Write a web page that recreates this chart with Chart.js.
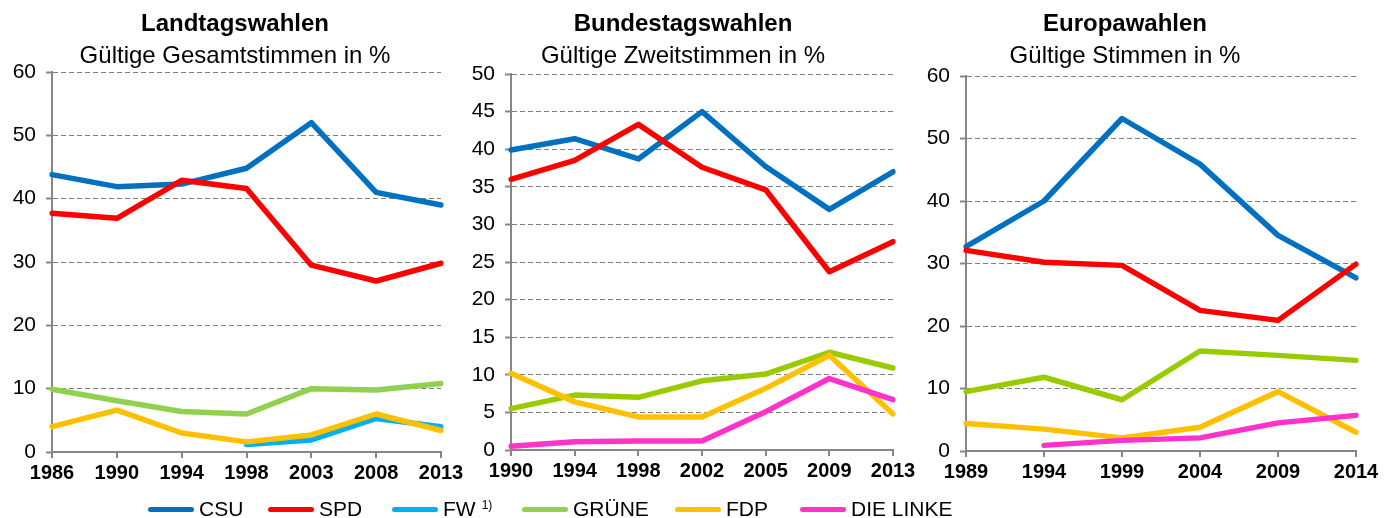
<!DOCTYPE html>
<html>
<head>
<meta charset="utf-8">
<script src="https://cdn.jsdelivr.net/npm/chart.js@4"></script>
<style>
  body { margin: 0; background: #fff; }
  #wrap { position: relative; width: 1397px; height: 518px; overflow: hidden; font-family: 'Liberation Sans', Arial, sans-serif; }
  canvas { position: absolute; left: 0; top: 0; }
  .title { position: absolute; width: 460px; text-align: center; font-size: 24px; line-height: 24px; font-weight: bold; color: #000; }
  .sub { position: absolute; width: 460px; text-align: center; font-size: 24px; line-height: 24px; color: #000; }
  .leg { position: absolute; top: 497px; height: 24px; display: flex; align-items: center; font-size: 21px; color: #000; white-space: nowrap; }
  .leg i { display: inline-block; width: 46px; height: 5px; border-radius: 3px; margin-right: 5px; }
  .leg sup { font-size: 12px; margin-left: 6px; position: relative; top: -4px; }
</style>
</head>
<body>
<div id="wrap">
  <canvas id="ltw" width="1397" height="518"></canvas>
  <canvas id="btw" width="1397" height="518"></canvas>
  <canvas id="euw" width="1397" height="518"></canvas>
</div>
<script>
// Landtagswahlen
const ltwYears = ['1986', '1990', '1994', '1998', '2003', '2008', '2013'];
const ltwCSU = [43.8, 41.9, 42.3, 44.8, 52.0, 41.0, 39.0];
const ltwSPD = [37.7, 36.9, 42.9, 41.6, 29.5, 27.0, 29.8];
const ltwFW = [null, null, null, 1.2, 1.9, 5.3, 4.0];
const ltwGruene = [9.9, 8.1, 6.4, 6.0, 10.0, 9.8, 10.8];
const ltwFDP = [4.0, 6.6, 3.0, 1.6, 2.7, 6.0, 3.4];

// Bundestagswahlen
const btwYears = ['1990', '1994', '1998', '2002', '2005', '2009', '2013'];
const btwCSU = [39.9, 41.4, 38.7, 45.0, 37.7, 32.0, 37.0];
const btwSPD = [36.0, 38.5, 43.3, 37.6, 34.6, 23.7, 27.7];
const btwGruene = [5.5, 7.3, 7.0, 9.2, 10.1, 13.0, 10.9];
const btwFDP = [10.2, 6.4, 4.4, 4.4, 8.2, 12.6, 4.8];
const btwLinke = [0.5, 1.1, 1.2, 1.2, 5.1, 9.5, 6.7];

// Europawahlen
const euwYears = ['1989', '1994', '1999', '2004', '2009', '2014'];
const euwCSU = [32.7, 40.0, 53.2, 45.9, 34.5, 27.7];
const euwSPD = [32.1, 30.2, 29.7, 22.5, 20.9, 29.9];
const euwGruene = [9.5, 11.8, 8.2, 16.0, 15.3, 14.5];
const euwFDP = [4.4, 3.5, 2.1, 3.8, 9.5, 3.0];
const euwLinke = [null, 0.9, 1.7, 2.1, 4.5, 5.7];

const yMax = { ltw: 60, btw: 50, euw: 60 };
const yStep = { ltw: 10, btw: 5, euw: 10 };

const titles = {
    ltw: ['Landtagswahlen', 'Gültige Gesamtstimmen in %'],
    btw: ['Bundestagswahlen', 'Gültige Zweitstimmen in %'],
    euw: ['Europawahlen', 'Gültige Stimmen in %']
};

const legendNames = ['CSU', 'SPD', 'FW', 'GRÜNE', 'FDP', 'DIE LINKE'];

const colors = {
    CSU: '#0070C0',
    SPD: '#FF0000',
    FW: '#00B0F0',
    GRUENE: '#92D050',
    GRUENE2: '#99CC00',
    FDP: '#FFC000',
    LINKE: '#FF33CC'
};

// plot boxes in page pixels
const boxes = {
    ltw: { left: 52, right: 441, top: 72, bottom: 452, title: 235 },
    btw: { left: 511, right: 893, top: 74, bottom: 450, title: 683 },
    euw: { left: 966, right: 1356, top: 76, bottom: 451, title: 1125 }
};
const legendX = [148, 268, 392, 522, 675, 800];
const legendColors = [colors.CSU, colors.SPD, colors.FW, colors.GRUENE, colors.FDP, colors.LINKE];

const W = 1397, H = 518, yW = 52, xH = 40;
const font = "'Liberation Sans', Arial, sans-serif";

function line(label, data, color, i) {
    return {
        label: label,
        data: data,
        borderColor: color,
        backgroundColor: color,
        borderWidth: 5.5,
        pointRadius: 0,
        borderCapStyle: 'round',
        borderJoinStyle: 'round',
        tension: 0,
        spanGaps: false,
        order: 10 - i
    };
}

function makeChart(id, labels, datasets) {
    const b = boxes[id];
    return new Chart(document.getElementById(id), {
        type: 'line',
        data: { labels: labels, datasets: datasets },
        options: {
            responsive: false,
            animation: false,
            layout: {
                padding: { left: b.left - yW, right: W - b.right, top: b.top, bottom: H - b.bottom - xH }
            },
            plugins: {
                legend: { display: false },
                tooltip: { enabled: false }
            },
            scales: {
                x: {
                    offset: false,
                    grid: { drawOnChartArea: false, offset: false, color: '#868686', lineWidth: 2, tickLength: 6 },
                    border: { color: '#868686', width: 2 },
                    ticks: { color: '#000', padding: 3, maxRotation: 0, autoSkip: false, font: { family: font, size: 20, weight: 'bold' } },
                    afterFit: function (s) { s.height = xH; s.paddingLeft = 0; s.paddingRight = 0; }
                },
                y: {
                    min: 0,
                    max: yMax[id],
                    grid: { color: '#808080', lineWidth: 1, tickLength: 6, tickWidth: 2, tickColor: '#868686', tickBorderDash: [] },
                    border: { color: '#868686', width: 2, dash: [5, 3] },
                    ticks: { stepSize: yStep[id], color: '#000', padding: 10, font: { family: font, size: 21 } },
                    afterFit: function (s) { s.width = yW; s.paddingTop = 0; s.paddingBottom = 0; }
                }
            }
        }
    });
}

makeChart('ltw', ltwYears, [
    line('CSU', ltwCSU, colors.CSU, 0),
    line('SPD', ltwSPD, colors.SPD, 1),
    line('FW', ltwFW, colors.FW, 2),
    line('GRÜNE', ltwGruene, colors.GRUENE, 3),
    line('FDP', ltwFDP, colors.FDP, 4)
]);

makeChart('btw', btwYears, [
    line('CSU', btwCSU, colors.CSU, 0),
    line('SPD', btwSPD, colors.SPD, 1),
    line('GRÜNE', btwGruene, colors.GRUENE2, 3),
    line('FDP', btwFDP, colors.FDP, 4),
    line('DIE LINKE', btwLinke, colors.LINKE, 5)
]);

makeChart('euw', euwYears, [
    line('CSU', euwCSU, colors.CSU, 0),
    line('SPD', euwSPD, colors.SPD, 1),
    line('GRÜNE', euwGruene, colors.GRUENE2, 3),
    line('FDP', euwFDP, colors.FDP, 4),
    line('DIE LINKE', euwLinke, colors.LINKE, 5)
]);

// titles
const wrap = document.getElementById('wrap');
Object.keys(titles).forEach(function (id) {
    const t = document.createElement('div');
    t.className = 'title';
    t.style.left = (boxes[id].title - 230) + 'px';
    t.style.top = '11px';
    t.textContent = titles[id][0];
    wrap.appendChild(t);
    const s = document.createElement('div');
    s.className = 'sub';
    s.style.left = (boxes[id].title - 230) + 'px';
    s.style.top = '43px';
    s.textContent = titles[id][1];
    wrap.appendChild(s);
});

// legend
legendNames.forEach(function (name, i) {
    const d = document.createElement('div');
    d.className = 'leg';
    d.style.left = legendX[i] + 'px';
    const sw = document.createElement('i');
    sw.style.background = legendColors[i];
    d.appendChild(sw);
    d.appendChild(document.createTextNode(name));
    if (name === 'FW') {
        const sup = document.createElement('sup');
        sup.textContent = '1)';
        d.appendChild(sup);
    }
    wrap.appendChild(d);
});
</script>
</body>
</html>
